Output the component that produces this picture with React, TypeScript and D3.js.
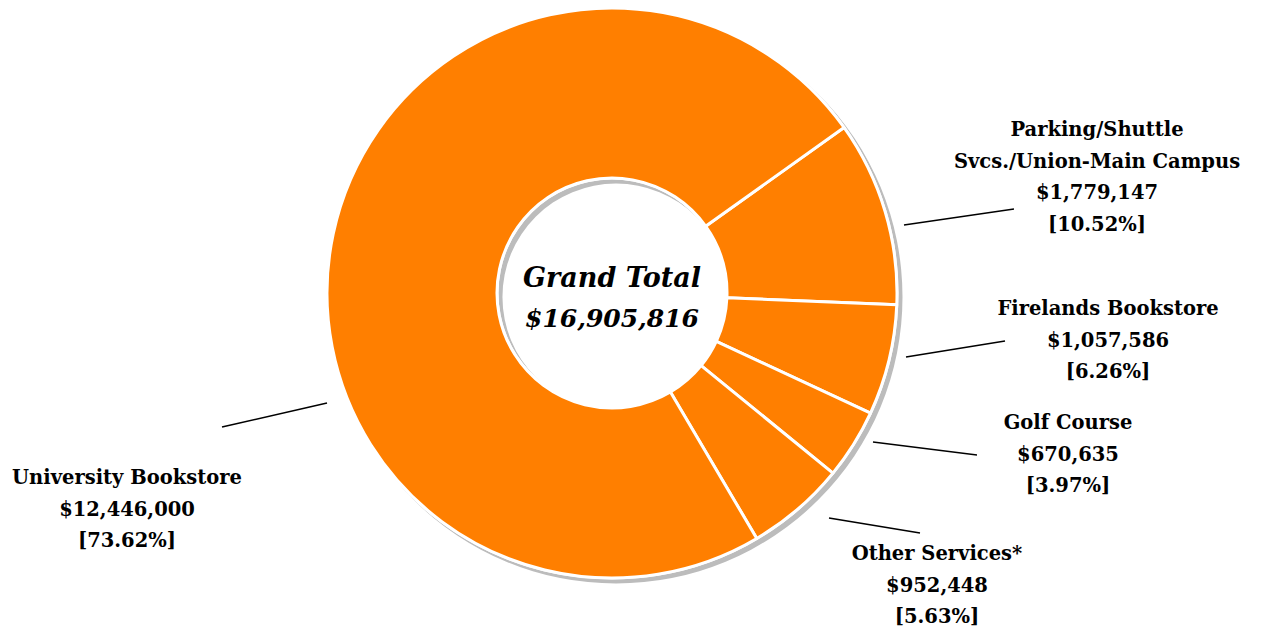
import React from 'react';
import * as d3 from 'd3';

const width = 1261;
const height = 630;

// data
const categories = [
  'Parking/Shuttle Svcs./Union-Main Campus',
  'Firelands Bookstore',
  'Golf Course',
  'Other Services*',
  'University Bookstore',
];
const values = [1779147, 1057586, 670635, 952448, 12446000];
const labelLines = [
  ['Parking/Shuttle', 'Svcs./Union-Main Campus'],
  ['Firelands Bookstore'],
  ['Golf Course'],
  ['Other Services*'],
  ['University Bookstore'],
];

// layout for the labels and leader lines (hand placed, like the original)
const labelLayout = [
  { x: 1097, y: 136, line: [[904, 225], [1014, 209]] },
  { x: 1108, y: 315, line: [[906, 357], [1005, 341]] },
  { x: 1068, y: 429, line: [[873, 442], [977, 455]] },
  { x: 937, y: 560, line: [[829, 518], [920, 533]] },
  { x: 127, y: 484, line: [[327, 403], [222, 427]] },
];

const cx = 612;
const cy = 293;
const outerR = 285;
const innerR = 115;
const startDeg = 54.5;
const orange = '#ff7f00';
const font = '"DejaVu Serif", serif';

const fmtMoney = d3.format('$,');
const fmtPct = d3.format('.2%');

export default function App() {
  const total = d3.sum(values);
  const start = (startDeg * Math.PI) / 180;
  const pie = d3
    .pie<number>()
    .sort(null)
    .startAngle(start)
    .endAngle(start + 2 * Math.PI);
  const arcs = pie(values);
  const arc = d3.arc<d3.PieArcDatum<number>>().innerRadius(innerR).outerRadius(outerR);
  const ring = d3
    .arc()
    .innerRadius(innerR - 1.5)
    .outerRadius(outerR + 1.5)
    .startAngle(0)
    .endAngle(2 * Math.PI);

  return (
    <svg width={width} height={height} style={{ position: 'absolute', left: 0, top: 0 }}>
      <defs>
        <filter id="soft" x="-10%" y="-10%" width="120%" height="120%">
          <feGaussianBlur stdDeviation="0.5" />
        </filter>
      </defs>
      {/* shadow */}
      <g transform={`translate(${cx + 4},${cy + 4})`} filter="url(#soft)">
        <path d={ring({} as any) || ''} fill="#bcbcbc" />
      </g>
      <g transform={`translate(${cx},${cy})`}>
        <path d={ring({} as any) || ''} fill="#fff" />
        {arcs.map((a, i) => (
          <path key={categories[i]} d={arc(a) || ''} fill={orange} stroke="#fff" strokeWidth={3} strokeLinejoin="round" />
        ))}
        <text
          textAnchor="middle"
          fontFamily={font}
          fontWeight="bold"
          fontStyle="italic"
          fontSize={27}
          fill="#000"
        >
          <tspan x={0} y={-6}>Grand Total</tspan>
          <tspan x={0} y={34} fontSize={25}>{fmtMoney(total)}</tspan>
        </text>
      </g>
      {labelLayout.map((l, i) => (
        <line
          key={'l' + i}
          x1={l.line[0][0]}
          y1={l.line[0][1]}
          x2={l.line[1][0]}
          y2={l.line[1][1]}
          stroke="#000"
          strokeWidth={1.5}
        />
      ))}
      {labelLayout.map((l, i) => {
        const lines = [...labelLines[i], fmtMoney(values[i]), `[${fmtPct(values[i] / total)}]`];
        return (
          <text key={'t' + i} textAnchor="middle" fontFamily={font} fontWeight="bold" fontSize={19.5} fill="#000">
            {lines.map((s, j) => (
              <tspan key={j} x={l.x} y={l.y + j * 31.6}>
                {s}
              </tspan>
            ))}
          </text>
        );
      })}
    </svg>
  );
}
